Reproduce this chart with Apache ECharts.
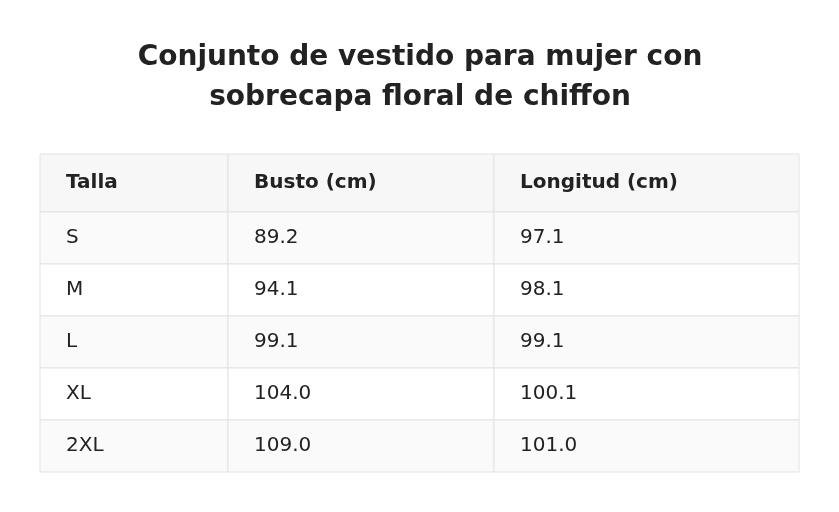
<!DOCTYPE html>
<html><head><meta charset="utf-8">
<script src="https://cdn.jsdelivr.net/npm/echarts@6/dist/echarts.min.js"></script>
<style>html,body{margin:0;padding:0;background:#fff}#c{width:839px;height:512px}</style>
</head><body><div id="c"></div>
<script>
const titleLines = ["Conjunto de vestido para mujer con", "sobrecapa floral de chiffon"];
const headers = ["Talla", "Busto (cm)", "Longitud (cm)"];
const sizes = ["S", "M", "L", "XL", "2XL"];
const busto = ["89.2", "94.1", "99.1", "104.0", "109.0"];
const longitud = ["97.1", "98.1", "99.1", "100.1", "101.0"];

const colX = [40, 228, 494, 799];
const top0 = 154, headH = 58, rowH = 52;
const font = '"DejaVu Sans", sans-serif';
const els = [];
titleLines.forEach((t, i) => els.push({type:'text', x:420, y:58 + i*40,
  style:{text:t, fill:'#222', font:'bold 28px ' + font, align:'center', verticalAlign:'middle'}}));
function row(cells, y, h, bg, bold) {
  for (let c = 0; c < 3; c++) {
    els.push({type:'rect', shape:{x:colX[c], y:y, width:colX[c+1]-colX[c], height:h},
      style:{fill:bg, stroke:'#e3e3e3', lineWidth:1}});
    els.push({type:'text', x:colX[c]+26, y:y+h/2,
      style:{text:cells[c], fill:'#222', font:(bold?'bold ':'')+'20px '+font, verticalAlign:'middle'}});
  }
}
row(headers, top0, headH, '#f7f7f7', true);
sizes.forEach((s, i) => row([s, busto[i], longitud[i]], top0+headH+i*rowH, rowH, i%2===0?'#fafafa':'#ffffff', false));
const chart = echarts.init(document.getElementById('c'));
chart.setOption({graphic:{elements:els}});
</script></body></html>
